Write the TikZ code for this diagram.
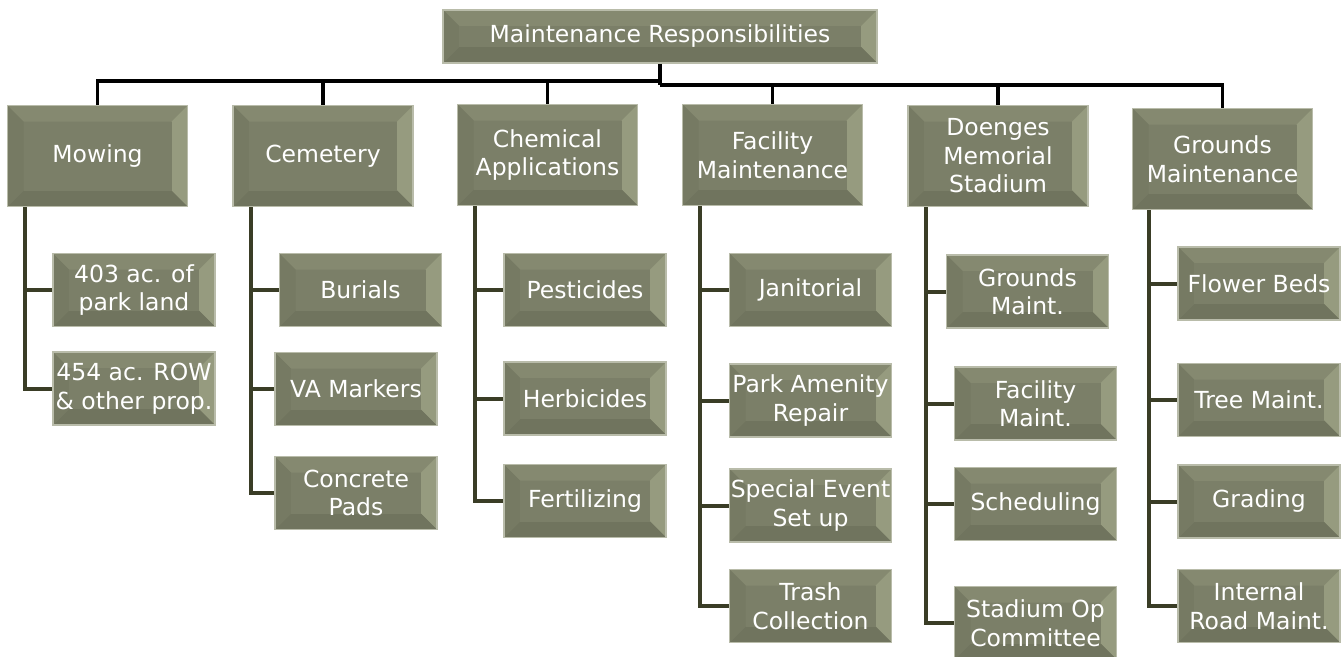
\documentclass[tikz,border=0pt]{standalone}
\usepackage{fontspec}
\setmainfont{DejaVu Sans}
\definecolor{boxfill}{HTML}{7B7F68}
\definecolor{boxedge}{HTML}{B9BCAA}
\definecolor{bevtop}{HTML}{858970}
\definecolor{bevright}{HTML}{969B7F}
\definecolor{bevbot}{HTML}{70745E}
\definecolor{bevleft}{HTML}{767A63}
\definecolor{linkcol}{HTML}{3A3D26}
\newcommand\bevw{16pt}
\newcommand\pp{path picture bounding box}
\tikzset{
  box/.style={draw=boxedge, line width=1.5pt, fill=boxfill, text=white, align=center,
    inner sep=0pt, font=\fontsize{23.5}{28.5}\selectfont,
    path picture={
      \fill[bevtop] (\pp.north west) -- (\pp.north east) -- ([shift={(-\bevw,-\bevw)}]\pp.north east) -- ([shift={(\bevw,-\bevw)}]\pp.north west) -- cycle;
      \fill[bevright] (\pp.north east) -- (\pp.south east) -- ([shift={(-\bevw,\bevw)}]\pp.south east) -- ([shift={(-\bevw,-\bevw)}]\pp.north east) -- cycle;
      \fill[bevbot] (\pp.south east) -- (\pp.south west) -- ([shift={(\bevw,\bevw)}]\pp.south west) -- ([shift={(-\bevw,\bevw)}]\pp.south east) -- cycle;
      \fill[bevleft] (\pp.south west) -- (\pp.north west) -- ([shift={(\bevw,-\bevw)}]\pp.north west) -- ([shift={(\bevw,\bevw)}]\pp.south west) -- cycle;
      \fill[boxfill] ([shift={(\bevw,-\bevw)}]\pp.north west) rectangle ([shift={(-\bevw,\bevw)}]\pp.south east);
    }},
  head/.style={box, minimum width=180pt, minimum height=101pt},
  child/.style={box, minimum width=162pt, minimum height=73pt},
  bus/.style={line width=3.6pt, black},
  link/.style={line width=4pt, linkcol}
}
\begin{document}
\begin{tikzpicture}[x=1pt, y=-1pt]
\useasboundingbox (0,0) rectangle (1344,656);

\node[box, minimum width=434pt, minimum height=53pt] (resp) at (660,36.5) {Maintenance Responsibilities};

\node[head] (mow)  at (97.5,156)  {Mowing};
\node[head] (cem)  at (323,156)   {Cemetery};
\node[head] (chem) at (547.5,155) {Chemical\\Applications};
\node[head] (fac)  at (772.5,155) {Facility\\Maintenance};
\node[head] (doe)  at (998,156)   {Doenges\\Memorial\\Stadium};
\node[head] (grd)  at (1222.5,159) {Grounds\\Maintenance};

\coordinate (hubl) at (660,81);
\coordinate (hubr) at (660,85);
\draw[bus] (resp) -- (hubr);
\draw[bus] (hubl) -| (mow);
\draw[bus] (hubl) -| (cem);
\draw[bus] (hubl) -| (chem);
\draw[bus] (hubr) -| (fac);
\draw[bus] (hubr) -| (doe);
\draw[bus] (hubr) -| (grd);

\node[child] (park) at (134,290)   {403 ac. of\\park land};
\node[child] (row)  at (134,388.5) {454 ac. ROW\\\& other prop.};

\node[child] (bur)  at (360.5,290) {Burials};
\node[child] (va)   at (356,389)   {VA Markers};
\node[child] (pads) at (356,493)   {Concrete\\Pads};

\node[child] (pest) at (585,290)   {Pesticides};
\node[child] (herb) at (585,398.5) {Herbicides};
\node[child] (fert) at (585,501)   {Fertilizing};

\node[child] (jan)   at (810.5,290)   {Janitorial};
\node[child] (amen)  at (810.5,400.5) {Park Amenity\\Repair};
\node[child] (event) at (810.5,505.5) {Special Event\\Set up};
\node[child] (trash) at (810.5,606)   {Trash\\Collection};

\node[child] (gmaint) at (1027.5,291.5) {Grounds\\Maint.};
\node[child] (fmaint) at (1035.5,403.5) {Facility\\Maint.};
\node[child] (sched)  at (1035.5,504)   {Scheduling};
\node[child] (stad)   at (1035.5,623)   {Stadium Op\\Committee};

\node[child] (flow)  at (1259,283.5) {Flower Beds};
\node[child] (tree)  at (1259,400)   {Tree Maint.};
\node[child] (grad)  at (1259,501.5) {Grading};
\node[child] (road)  at (1259,606)   {Internal\\Road Maint.};

\draw[link] ([xshift=18.5pt]mow.south west) |- (park);
\draw[link] ([xshift=18.5pt]mow.south west) |- (row);

\draw[link] ([xshift=18.5pt]cem.south west) |- (bur);
\draw[link] ([xshift=18.5pt]cem.south west) |- (va);
\draw[link] ([xshift=18.5pt]cem.south west) |- (pads);

\draw[link] ([xshift=18.5pt]chem.south west) |- (pest);
\draw[link] ([xshift=18.5pt]chem.south west) |- (herb);
\draw[link] ([xshift=18.5pt]chem.south west) |- (fert);

\draw[link] ([xshift=18.5pt]fac.south west) |- (jan);
\draw[link] ([xshift=18.5pt]fac.south west) |- (amen);
\draw[link] ([xshift=18.5pt]fac.south west) |- (event);
\draw[link] ([xshift=18.5pt]fac.south west) |- (trash);

\draw[link] ([xshift=18.5pt]doe.south west) |- (gmaint);
\draw[link] ([xshift=18.5pt]doe.south west) |- (fmaint);
\draw[link] ([xshift=18.5pt]doe.south west) |- (sched);
\draw[link] ([xshift=18.5pt]doe.south west) |- (stad);

\draw[link] ([xshift=17pt]grd.south west) |- (flow);
\draw[link] ([xshift=17pt]grd.south west) |- (tree);
\draw[link] ([xshift=17pt]grd.south west) |- (grad);
\draw[link] ([xshift=17pt]grd.south west) |- (road);
\end{tikzpicture}
\end{document}
